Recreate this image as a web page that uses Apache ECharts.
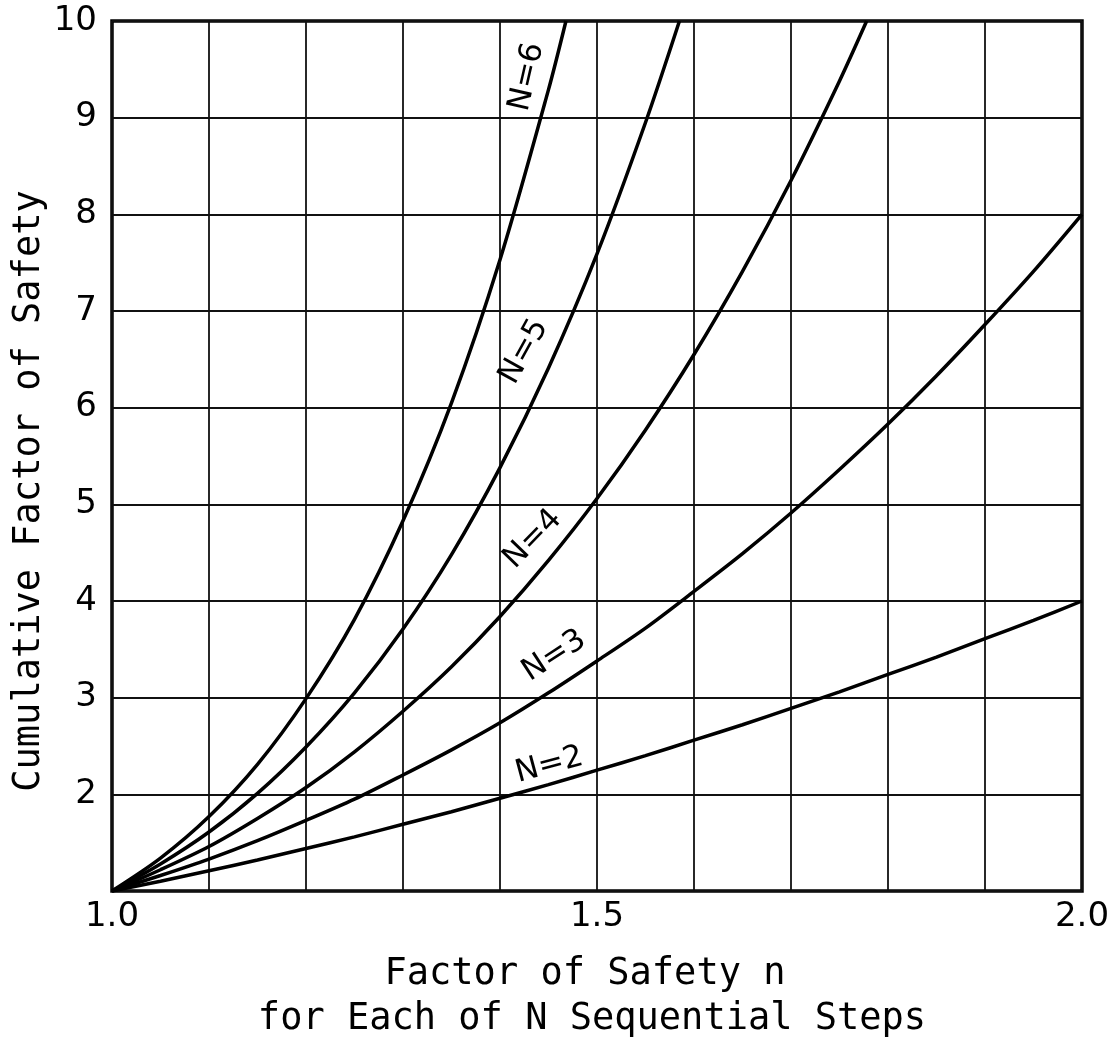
<!DOCTYPE html>
<html>
<head>
<meta charset="utf-8">
<script src="https://cdn.jsdelivr.net/npm/echarts@6/dist/echarts.min.js"></script>
<style>
html,body{margin:0;padding:0;background:#fff;}
#chart{width:1118px;height:1053px;}
</style>
</head>
<body>
<div id="chart"></div>
<script>
// x positions (factor of safety n) at which curve values were read
const xValues = [1.00,1.05,1.10,1.15,1.20,1.25,1.30,1.35,1.40,1.45,1.50,1.55,1.60,1.65,1.70,1.75,1.80,1.85,1.90,1.95,2.00];
// cumulative factor of safety for each curve
const seriesN2 = [1.00,1.10,1.21,1.32,1.44,1.56,1.69,1.82,1.96,2.10,2.25,2.40,2.56,2.72,2.89,3.06,3.24,3.42,3.61,3.80,4.00];
const seriesN3 = [1.00,1.16,1.33,1.52,1.73,1.95,2.20,2.46,2.74,3.05,3.38,3.72,4.10,4.49,4.91,5.36,5.83,6.33,6.86,7.41,8.00];
const seriesN4 = [1.00,1.22,1.46,1.75,2.07,2.44,2.86,3.32,3.84,4.42,5.06,5.77,6.55,7.41,8.35,9.38];
const seriesN5 = [1.00,1.28,1.61,2.01,2.49,3.05,3.71,4.48,5.38,6.41,7.59,8.95];
const seriesN6 = [1.00,1.34,1.77,2.31,2.99,3.81,4.83,6.05,7.53,9.29];
// where the steep curves leave the top of the chart (y = 10)
const topExitN4 = [1.778, 10];
const topExitN5 = [1.585, 10];
const topExitN6 = [1.468, 10];
const curveNames = ['N=2','N=3','N=4','N=5','N=6'];
const xTickLabels = ['1.0','1.5','2.0'];
const yTickLabels = ['2','3','4','5','6','7','8','9','10'];
const xTitle1 = 'Factor of Safety n';
const xTitle2 = 'for Each of N Sequential Steps';
const yTitle = 'Cumulative Factor of Safety';

function pairs(vals, exit) {
  const p = vals.map((v, i) => [xValues[i], v]);
  if (exit) p.push(exit);
  return p;
}
const curveData = [
  pairs(seriesN2), pairs(seriesN3), pairs(seriesN4, topExitN4),
  pairs(seriesN5, topExitN5), pairs(seriesN6, topExitN6)
];

// label anchor (data coords) and rotation (degrees) for each curve's label
const labelPlacement = [
  {x:1.451, y:2.30, rot:15},
  {x:1.456, y:3.43, rot:33},
  {x:1.434, y:4.64, rot:46},
  {x:1.425, y:6.58, rot:61},
  {x:1.428, y:9.42, rot:77}
];

const chart = echarts.init(document.getElementById('chart'), null, {renderer:'canvas'});
const tickFont = 'DejaVu Sans';
const titleFont = 'DejaVu Sans Mono';

const option = {
  backgroundColor:'#fff',
  animation:false,
  grid:{left:112, right:36, top:21, bottom:162, show:true, borderColor:'#000', borderWidth:3.5, backgroundColor:'transparent', containLabel:false},
  xAxis:{
    type:'value', min:1, max:2, interval:0.1,
    axisLine:{show:false}, axisTick:{show:false},
    splitLine:{show:true, lineStyle:{color:'#111', width:1.8}},
    axisLabel:{
      show:true, margin:9, color:'#000', fontFamily:tickFont, fontSize:34,
      showMinLabel:true, showMaxLabel:true,
      formatter:function(v){
        const k = Math.round(v*10);
        const idx = [10,15,20].indexOf(k);
        return idx >= 0 ? xTickLabels[idx] : '';
      }
    }
  },
  yAxis:{
    type:'value', min:1, max:10, interval:1,
    axisLine:{show:false}, axisTick:{show:false},
    splitLine:{show:true, lineStyle:{color:'#111', width:1.8}},
    axisLabel:{
      show:true, margin:15, color:'#000', fontFamily:tickFont, fontSize:34,
      formatter:function(v){
        const idx = yTickLabels.indexOf(String(Math.round(v)));
        return idx >= 0 ? yTickLabels[idx] : '';
      }
    }
  },
  series: curveData.map((d, i) => ({
    name: curveNames[i], type:'line', data:d, showSymbol:false, symbol:'none',
    smooth:0.3, clip:true,
    lineStyle:{color:'#000', width:3.5}
  }))
};
chart.setOption(option);

const graphics = [];
labelPlacement.forEach((p, i) => {
  const px = chart.convertToPixel({gridIndex:0}, [p.x, p.y]);
  graphics.push({
    type:'text', x:px[0], y:px[1], rotation:p.rot*Math.PI/180,
    style:{text:curveNames[i], fontFamily:tickFont, fontSize:31, fill:'#000', align:'center', verticalAlign:'middle'},
    z:10
  });
});
graphics.push({type:'text', x:585, y:974, style:{text:xTitle1, fontFamily:titleFont, fontSize:37, fill:'#000', align:'center', verticalAlign:'middle'}});
graphics.push({type:'text', x:592, y:1019, style:{text:xTitle2, fontFamily:titleFont, fontSize:37, fill:'#000', align:'center', verticalAlign:'middle'}});
graphics.push({type:'text', x:29, y:491, rotation:Math.PI/2, style:{text:yTitle, fontFamily:titleFont, fontSize:37, fill:'#000', align:'center', verticalAlign:'middle'}});
chart.setOption({graphic:graphics});
</script>
</body>
</html>
